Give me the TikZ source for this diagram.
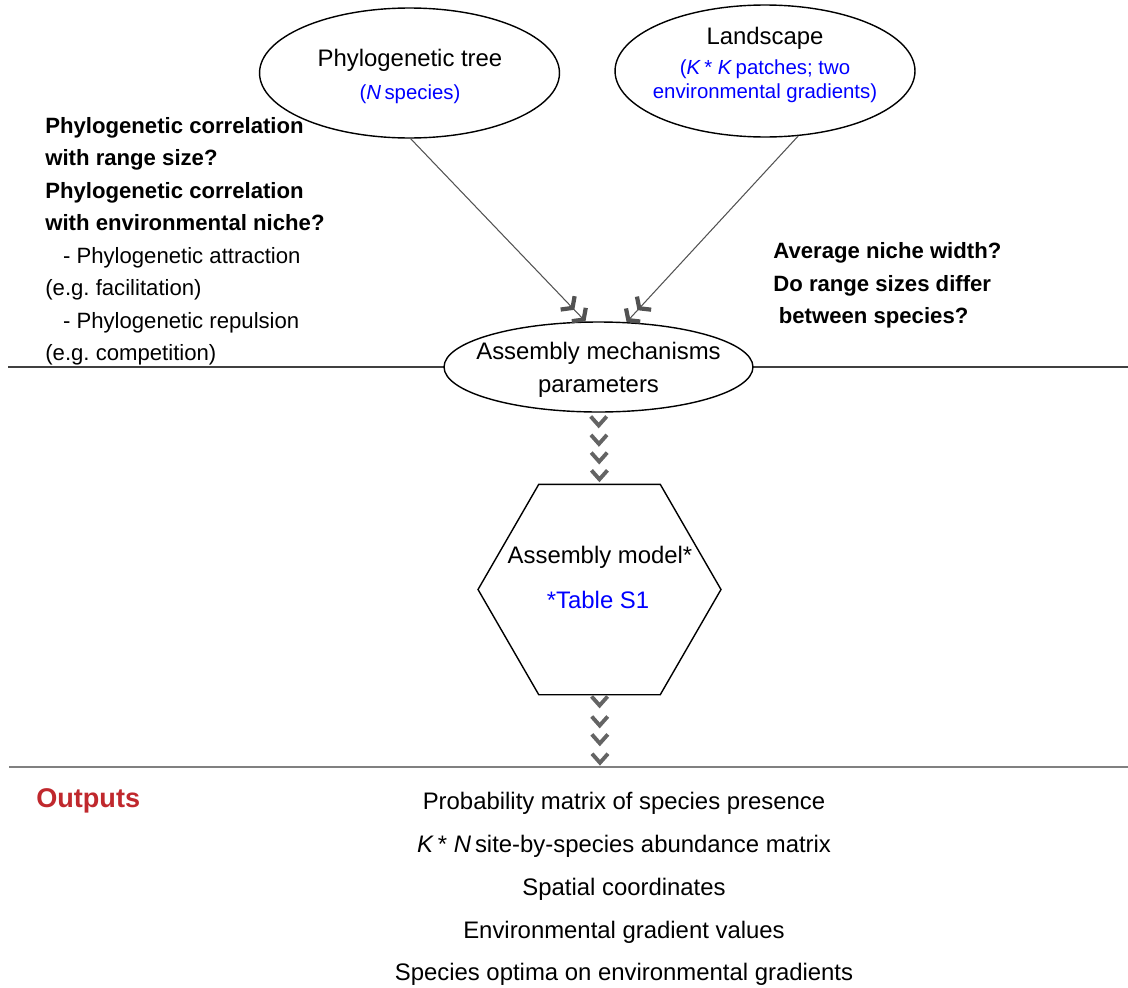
\documentclass[tikz,border=0pt]{standalone}
\usepackage{fontspec}
\setmainfont{Liberation Sans}
\usetikzlibrary{arrows.meta,positioning,shapes.geometric,calc}
\definecolor{noteblue}{RGB}{0,0,255}
\definecolor{outred}{RGB}{192,40,45}
\definecolor{chevgray}{RGB}{100,100,100}

\begin{document}
\begin{tikzpicture}[
          x=0.02cm, y=-0.02cm,
          oval/.style={ellipse, draw, line width=0.8pt, fill=white, inner sep=0pt},
          hexa/.style={regular polygon, regular polygon sides=6, draw, line width=0.8pt,
              fill=white, inner sep=0pt, minimum size=4.86cm},
          txt/.style={font=\fontsize{13.6}{18.7}\selectfont, inner sep=0pt, align=center},
          note/.style={font=\fontsize{11.6}{13.6}\selectfont, text=noteblue, inner sep=0pt, align=center},
          quest/.style={font=\fontsize{12.6}{18.5}\selectfont, inner sep=0pt, align=left, anchor=north west},
          arr/.style={draw=black!68, line width=0.6pt,
              -{Straight Barb[length=4pt,width=11pt,line width=2.4pt,sep=2.5pt]Straight Barb[length=4pt,width=11pt,line width=2.4pt]}},
          chev/.style={draw=chevgray, line width=2.2pt, line cap=butt, line join=miter},
          rule/.style={draw=black!75, line width=0.6pt},
          graterule/.style={draw=black!50, line width=1.1pt}
      ]
      \useasboundingbox (0,0) rectangle (1128,987);
      % section rules
      \coordinate (ruleAL) at (8,367);   \coordinate (ruleAR) at (1128,367);
      \coordinate (ruleBL) at (9,767);   \coordinate (ruleBR) at (1128,767);
      \coordinate (outin)  at (600,767);
      \draw[rule] (ruleAL) -- (ruleAR);
      \draw[graterule] (ruleBL) -- (ruleBR);
      % inputs
      \node[oval, minimum width=6cm, minimum height=2.6cm] (phylo) at (409.5,73) {};
      \node[oval, minimum width=6cm, minimum height=2.64cm] (land) at (765,71) {};
      \node[txt]  (phyloT) at (410,60) {Phylogenetic tree};
      \node[note] (phyloN) at (410,94) {(\textit{N}\,species)};
      \node[txt]  (landT)  at (765,38) {Landscape};
      \node[note] (landN)  at (765,81) {(\textit{K}\,*\ \textit{K}\,patches; two\\environmental gradients)};
      % mechanisms
      \node[oval, minimum width=6.18cm, minimum height=1.8cm] (mech) at (598.5,367) {};
      \node[txt] (mechT) at (598.5,369.5) {Assembly mechanisms\\parameters};
      \draw[arr] (phylo.-89) -- (mech.106);
      \draw[arr] (land.-63.4) -- (mech.58);
      % questions
      \node[quest] (leftq) at (45,117) {\textbf{Phylogenetic correlation}\\
          \textbf{with range size?}\\
          \textbf{Phylogenetic correlation}\\
          \textbf{with environmental niche?}\\
          \hspace*{0.8em}- Phylogenetic attraction\\
          (e.g.\ facilitation)\\
          \hspace*{0.8em}- Phylogenetic repulsion\\
          (e.g.\ competition)};
      \node[quest, font=\fontsize{12.6}{18.6}\selectfont\bfseries] (rightq) at (773,242)
          {Average niche width?\\Do range sizes differ\\\hspace*{0.25em}between species?};
      % model
      \node[hexa] (model) at (599.5,589.5) {};
      \node[txt] (modelT) at (600,557) {Assembly model*};
      \node[txt, text=noteblue] (modelN) at (598,600) {*Table S1};
      \foreach \t in {0.18,0.44,0.69,0.94}
          \draw[chev] ($(mech.south)!\t!(model.north)$) +(-8,-9) -- +(0,0) -- +(8,-9);
      \foreach \t in {0.14,0.42,0.67,0.94}
          \draw[chev] ($(model.south)!\t!(outin)$) +(-8,-9) -- +(0,0) -- +(8,-9);
      % outputs
      \node[anchor=west, inner sep=0pt, text=outred, font=\fontsize{15.4}{18}\selectfont\bfseries]
          (outT) at (36,801) {Outputs};
      \node[txt, font=\fontsize{13.6}{24.4}\selectfont] (outL) at (624,889)
          {Probability matrix of species presence\\
           \textit{K}\,*\ \textit{N}\,site-by-species abundance matrix\\
           Spatial coordinates\\
           Environmental gradient values\\
           Species optima on environmental gradients};
\end{tikzpicture}
\end{document}
